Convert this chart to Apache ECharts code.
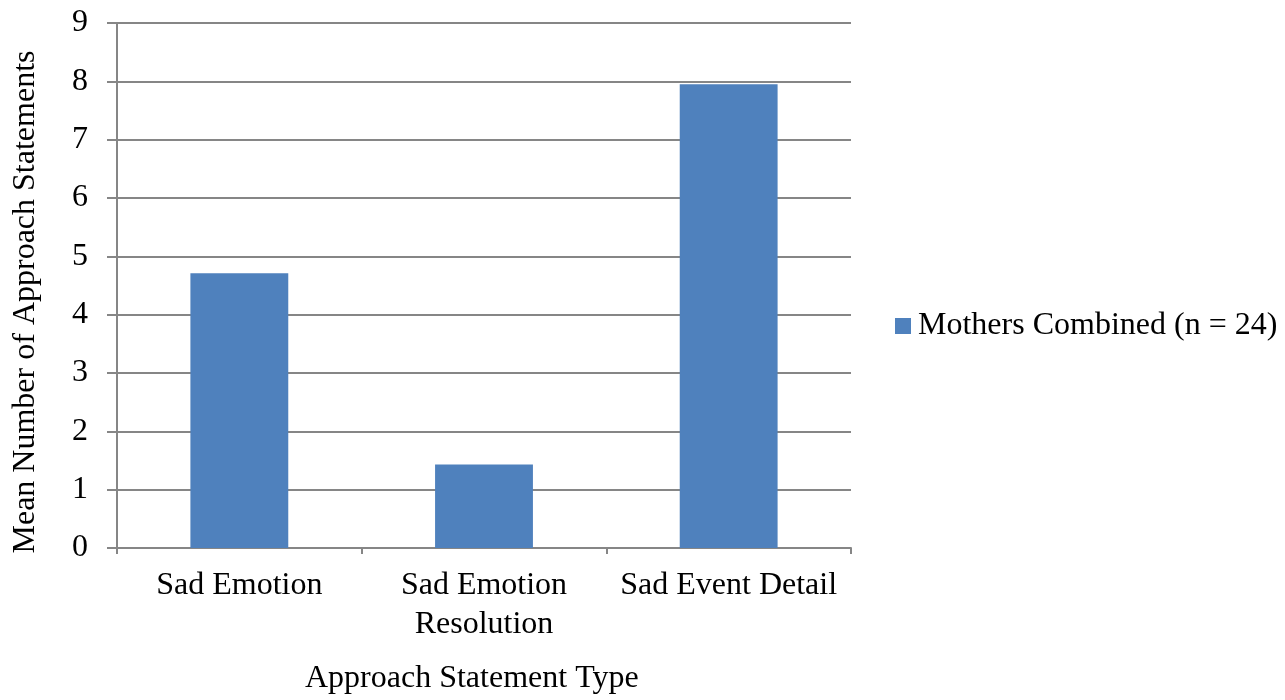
<!DOCTYPE html>
<html>
<head>
<meta charset="utf-8">
<script src="https://cdn.jsdelivr.net/npm/echarts@6/dist/echarts.min.js"></script>
<style>
  html, body { margin: 0; padding: 0; background: #fff; }
  #chart { width: 1285px; height: 700px; }
</style>
</head>
<body>
<div id="chart"></div>
<script>
// Mean approach statements by statement type
const categories = ['Sad Emotion', 'Sad Emotion\nResolution', 'Sad Event Detail'];
const seriesName = 'Mothers Combined (n = 24)';
const values = [4.71, 1.43, 7.95];
const yTicks = [0, 1, 2, 3, 4, 5, 6, 7, 8, 9];
const yTitle = 'Mean Number of Approach Statements';
const xTitle = 'Approach Statement Type';

const FONT = '"Liberation Serif", "Times New Roman", serif';
const FS = 32;
const AXIS_GRAY = '#868686';

const chart = echarts.init(document.getElementById('chart'));
chart.setOption({
  animation: false,
  backgroundColor: '#ffffff',
  textStyle: { fontFamily: FONT, color: '#000' },
  grid: { left: 117, right: 434, top: 23, bottom: 152, containLabel: false },
  legend: {
    data: [seriesName],
    orient: 'vertical',
    left: 895,
    top: 310,
    padding: 0,
    itemWidth: 16,
    itemHeight: 16,
    itemGap: 0,
    icon: 'rect',
    textStyle: { fontFamily: FONT, fontSize: FS, color: '#000', padding: [0, 0, 0, 2] }
  },
  xAxis: {
    type: 'category',
    data: categories,
    axisLine: { lineStyle: { color: AXIS_GRAY, width: 2 } },
    axisTick: { show: true, length: 6, alignWithLabel: false, lineStyle: { color: AXIS_GRAY, width: 2 } },
    axisLabel: { fontFamily: FONT, fontSize: FS, color: '#000', margin: 18, lineHeight: 39, interval: 0 }
  },
  yAxis: {
    type: 'value',
    min: 0,
    max: yTicks[yTicks.length - 1],
    interval: 1,
    axisLine: { show: true, lineStyle: { color: AXIS_GRAY, width: 2 } },
    axisTick: { show: true, length: 10, lineStyle: { color: AXIS_GRAY, width: 2 } },
    axisLabel: { fontFamily: FONT, fontSize: FS, color: '#000', margin: 29 },
    splitLine: { show: true, lineStyle: { color: AXIS_GRAY, width: 2 } }
  },
  series: [{
    name: seriesName,
    type: 'bar',
    data: values,
    barCategoryGap: '60%',
    itemStyle: { color: '#4F81BD' }
  }],
  graphic: [
    {
      type: 'text',
      x: 26,
      y: 302,
      rotation: Math.PI / 2,
      style: {
        text: yTitle,
        font: FS + 'px ' + FONT,
        fill: '#000',
        align: 'center',
        verticalAlign: 'middle'
      }
    },
    {
      type: 'text',
      left: 305,
      top: 663,
      style: { text: xTitle, font: FS + 'px ' + FONT, fill: '#000' }
    }
  ]
});
</script>
</body>
</html>
